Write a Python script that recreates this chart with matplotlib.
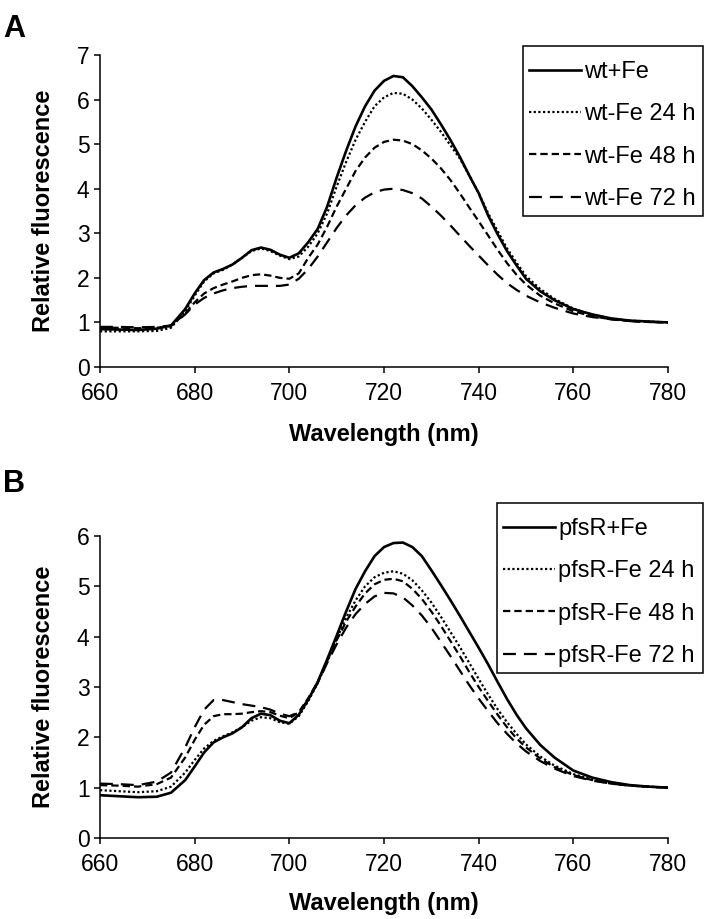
import numpy as np
import matplotlib
matplotlib.use("Agg")
import matplotlib.pyplot as plt
from matplotlib.patches import Rectangle

plt.rcParams['font.family'] = ['Liberation Sans', 'DejaVu Sans']

# wavelengths (nm)
wl = [660, 664, 668, 672, 675, 678, 680, 682, 684, 686, 688, 690, 692, 694, 696, 698,
      700, 702, 704, 706, 708, 710, 712, 714, 716, 718, 720, 722, 724, 726, 728, 730,
      732, 734, 736, 738, 740, 742, 744, 746, 748, 750, 753, 756, 760, 764, 768, 772,
      776, 780]

# panel A
wt_fe = [0.85, 0.84, 0.83, 0.86, 0.93, 1.30, 1.65, 1.95, 2.12, 2.20, 2.30, 2.45, 2.62, 2.68, 2.63, 2.52,
         2.45, 2.55, 2.80, 3.10, 3.60, 4.25, 4.85, 5.40, 5.85, 6.20, 6.42, 6.53, 6.50, 6.30, 6.05, 5.78,
         5.45, 5.10, 4.72, 4.30, 3.90, 3.40, 2.98, 2.60, 2.28, 1.98, 1.70, 1.50, 1.30, 1.18, 1.09, 1.04,
         1.02, 1.00]
wt_24 = [0.80, 0.80, 0.80, 0.81, 0.88, 1.25, 1.60, 1.92, 2.10, 2.18, 2.30, 2.45, 2.60, 2.66, 2.60, 2.50,
         2.42, 2.48, 2.70, 3.00, 3.45, 4.05, 4.60, 5.10, 5.50, 5.85, 6.05, 6.15, 6.13, 6.00, 5.80, 5.55,
         5.28, 4.98, 4.68, 4.30, 3.90, 3.45, 3.05, 2.66, 2.34, 2.04, 1.75, 1.53, 1.31, 1.17, 1.08, 1.04,
         1.02, 1.00]
wt_48 = [0.88, 0.88, 0.87, 0.88, 0.92, 1.20, 1.45, 1.65, 1.77, 1.85, 1.92, 2.00, 2.06, 2.08, 2.05, 2.00,
         1.98, 2.10, 2.45, 2.75, 3.15, 3.60, 4.00, 4.40, 4.70, 4.92, 5.05, 5.10, 5.08, 5.00, 4.86, 4.68,
         4.46, 4.20, 3.90, 3.58, 3.27, 2.95, 2.63, 2.33, 2.07, 1.85, 1.60, 1.43, 1.25, 1.14, 1.07, 1.03,
         1.01, 1.00]
wt_72 = [0.90, 0.90, 0.89, 0.90, 0.93, 1.18, 1.40, 1.55, 1.65, 1.72, 1.77, 1.80, 1.82, 1.82, 1.82, 1.82,
         1.85, 1.98, 2.20, 2.48, 2.80, 3.12, 3.40, 3.63, 3.80, 3.92, 3.98, 4.00, 3.97, 3.90, 3.78, 3.60,
         3.40, 3.18, 2.95, 2.72, 2.50, 2.28, 2.07, 1.88, 1.73, 1.60, 1.45, 1.33, 1.20, 1.12, 1.07, 1.03,
         1.01, 1.00]

# panel B
pfs_fe = [0.85, 0.83, 0.81, 0.82, 0.90, 1.15, 1.42, 1.70, 1.90, 2.00, 2.08, 2.20, 2.38, 2.47, 2.44, 2.33,
          2.28, 2.45, 2.75, 3.10, 3.55, 4.02, 4.50, 4.95, 5.30, 5.60, 5.78, 5.86, 5.87, 5.78, 5.60, 5.32,
          5.03, 4.73, 4.42, 4.10, 3.78, 3.45, 3.10, 2.76, 2.45, 2.18, 1.85, 1.60, 1.34, 1.20, 1.11, 1.05,
          1.02, 1.00]
pfs_24 = [0.95, 0.93, 0.91, 0.93, 1.02, 1.30, 1.55, 1.78, 1.93, 2.02, 2.10, 2.20, 2.33, 2.40, 2.38, 2.30,
          2.27, 2.42, 2.72, 3.08, 3.50, 3.95, 4.38, 4.72, 5.00, 5.18, 5.27, 5.30, 5.25, 5.12, 4.92, 4.68,
          4.40, 4.10, 3.80, 3.48, 3.16, 2.85, 2.56, 2.30, 2.07, 1.86, 1.62, 1.44, 1.27, 1.16, 1.09, 1.04,
          1.02, 1.00]
pfs_48 = [1.05, 1.04, 1.02, 1.07, 1.20, 1.60, 1.95, 2.25, 2.42, 2.46, 2.46, 2.47, 2.50, 2.52, 2.50, 2.43,
          2.38, 2.50, 2.78, 3.10, 3.52, 3.93, 4.30, 4.60, 4.86, 5.04, 5.13, 5.15, 5.10, 4.95, 4.75, 4.50,
          4.22, 3.92, 3.62, 3.30, 3.00, 2.72, 2.45, 2.20, 1.98, 1.80, 1.58, 1.41, 1.25, 1.15, 1.08, 1.04,
          1.02, 1.00]
pfs_72 = [1.08, 1.07, 1.05, 1.12, 1.30, 1.80, 2.20, 2.55, 2.74, 2.74, 2.70, 2.66, 2.63, 2.60, 2.55, 2.47,
          2.42, 2.50, 2.75, 3.08, 3.48, 3.85, 4.18, 4.45, 4.65, 4.80, 4.87, 4.86, 4.78, 4.62, 4.42, 4.18,
          3.90, 3.62, 3.33, 3.04, 2.77, 2.52, 2.28, 2.07, 1.88, 1.72, 1.53, 1.38, 1.23, 1.14, 1.08, 1.04,
          1.02, 1.00]

labels_a = ["wt+Fe", "wt-Fe 24 h", "wt-Fe 48 h", "wt-Fe 72 h"]
labels_b = ["pfsR+Fe", "pfsR-Fe 24 h", "pfsR-Fe 48 h", "pfsR-Fe 72 h"]

styles = [dict(ls='-', lw=1.9),
          dict(ls=(0, (1, 1.1)), lw=1.6),
          dict(ls=(0, (3.3, 1.8)), lw=1.6),
          dict(ls=(0, (5.8, 3.6)), lw=1.6)]

W, H = 711, 919
fig = plt.figure(figsize=(W / 100, H / 100), dpi=100)
axA = fig.add_axes([100/W, 1-367/H, 568/W, 312/H])
axB = fig.add_axes([100/W, 1-838/H, 568/W, 302/H])


def panel(ax, series, labels, ymax, box):
    for y, lab, st in zip(series, labels, styles):
        ax.plot(wl, y, color='black', label=lab, **st)
    ax.set_xlim(660, 780)
    ax.set_ylim(0, ymax)
    ax.set_xticks(np.arange(660, 781, 20))
    ax.set_yticks(np.arange(0, ymax + 1, 1))
    for s in ['top', 'right']:
        ax.spines[s].set_visible(False)
    for s in ['left', 'bottom']:
        ax.spines[s].set_linewidth(1.1)
    ax.tick_params(direction='out', length=4.5, width=1.1, labelsize=16.5)
    ax.tick_params(axis='x', pad=6)
    ax.tick_params(axis='y', pad=3)
    ax.set_xlabel("Wavelength (nm)", fontsize=17, fontweight='bold')
    ax.set_ylabel("Relative fluorescence", fontsize=17, fontweight='bold')
    ax.yaxis.set_label_coords(-0.079, 0.5)
    ax.xaxis.set_label_coords(0.5, -0.18)
    # legend box (pixels: left, top, right, bottom)
    x0, y0, x1, y1 = box
    fig.patches.append(Rectangle((x0 / W, 1 - y1 / H), (x1 - x0) / W, (y1 - y0) / H,
                                 transform=fig.transFigure, fill=False,
                                 edgecolor='black', linewidth=1.1))
    ax.legend(loc='upper left', bbox_to_anchor=((x0 + 6) / W, 1 - (y0 + 15) / H),
              bbox_transform=fig.transFigure, fontsize=17, frameon=False,
              handlelength=2.2, handletextpad=0.15, labelspacing=0.86,
              borderpad=0, borderaxespad=0)


panel(axA, [wt_fe, wt_24, wt_48, wt_72], labels_a, 7, (523, 46, 703, 216))
panel(axB, [pfs_fe, pfs_24, pfs_48, pfs_72], labels_b, 6, (497, 503, 703, 673))

fig.text(3/W, 1-37/H, "A", fontsize=22, fontweight='bold', va='baseline')
fig.text(3/W, 1-492/H, "B", fontsize=22, fontweight='bold', va='baseline')

fig.savefig("out.png", dpi=100)
